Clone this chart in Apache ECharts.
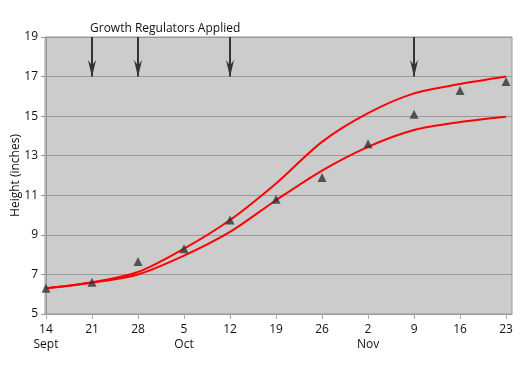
<!DOCTYPE html>
<html><head><meta charset="utf-8">
<script src="https://cdn.jsdelivr.net/npm/echarts@6/dist/echarts.min.js"></script>
<style>html,body{margin:0;padding:0;background:#fff}#c{width:525px;height:366px}</style>
</head><body><div id="c"></div>
<script>
// Days since 14 Sept (weekly sampling)
const days = [0, 7, 14, 21, 28, 35, 42, 49, 56, 63, 70];
const dayLabels = ['14', '21', '28', '5', '12', '19', '26', '2', '9', '16', '23'];
const monthLabels = ['Sept', '', '', 'Oct', '', '', '', 'Nov', '', '', ''];
const observed = [6.3, 6.6, 7.65, 8.3, 9.75, 10.8, 11.9, 13.6, 15.1, 16.3, 16.75];
const upperCurve = [6.3, 6.6, 7.12, 8.3, 9.75, 11.6, 13.7, 15.15, 16.15, 16.62, 17.0];
const lowerCurve = [6.3, 6.58, 7.0, 7.95, 9.15, 10.75, 12.25, 13.45, 14.3, 14.7, 14.97];
const applicationDays = [7, 14, 28, 56];
const arrowTop = 19, arrowBottom = 17;
const titleText = 'Growth Regulators Applied';
const yName = 'Height (inches)';

const pair = (xs, ys) => xs.map((x, i) => [x, ys[i]]);
const chart = echarts.init(document.getElementById('c'), null, {renderer: 'canvas'});
const FONT = 'Open Sans';
const ARROW = 'path://M5,0 L10,16 L5,11 L0,16 Z';
chart.setOption({
  animation: false,
  title: {text: titleText, left: 90, top: 23, padding: 0,
    textStyle: {fontFamily: FONT, fontSize: 12, fontWeight: 'normal', color: '#111'}},
  grid: {left: 45, right: 13, top: 37, bottom: 52, show: true, containLabel: false, outerBoundsMode: 'none',
    backgroundColor: '#cccccc', borderColor: '#999', borderWidth: 1},
  xAxis: {type: 'value', min: -0.15, max: 70.9,
    axisLine: {lineStyle: {color: '#999'}},
    axisTick: {show: true, length: 5, lineStyle: {color: '#aaa'}, customValues: days},
    splitLine: {show: false},
    axisLabel: {customValues: days, margin: 8, color: '#111', fontFamily: FONT, fontSize: 12, lineHeight: 15,
      formatter: v => { const i = days.indexOf(Math.round(v)); if (i < 0) return ''; return monthLabels[i] ? dayLabels[i] + '\n' + monthLabels[i] : dayLabels[i]; }}
  },
  yAxis: {type: 'value', min: 5, max: 19, interval: 2,
    name: yName, nameLocation: 'middle', nameGap: 23, nameRotate: 90, nameMoveOverlap: false,
    nameTextStyle: {fontFamily: FONT, fontSize: 12, color: '#111'},
    axisLine: {show: true, lineStyle: {color: '#999'}},
    axisTick: {show: true, length: 5, lineStyle: {color: '#999'}},
    splitLine: {lineStyle: {color: '#999', width: 1}},
    axisLabel: {margin: 7, color: '#111', fontFamily: FONT, fontSize: 12}
  },
  series: [
    {type: 'line', data: pair(days, upperCurve), smooth: 0.3, showSymbol: false,
      lineStyle: {color: '#ff0000', width: 2}, z: 3},
    {type: 'line', data: pair(days, lowerCurve), smooth: 0.3, showSymbol: false,
      lineStyle: {color: '#ff0000', width: 2}, z: 3},
    {type: 'scatter', data: pair(days, observed), symbol: 'triangle', symbolSize: 9,
      itemStyle: {color: '#333'}, z: 4,
      markLine: {silent: true,
        lineStyle: {color: '#333', width: 2, type: 'solid'}, label: {show: false},
        emphasis: {disabled: true},
        data: applicationDays.map(d => [
          {coord: [d, arrowTop], symbol: 'none', symbolSize: 1},
          {coord: [d, arrowBottom], symbol: ARROW, symbolSize: [8, 17], symbolOffset: [0, 8]}])}
    }
  ]
});
</script></body></html>
